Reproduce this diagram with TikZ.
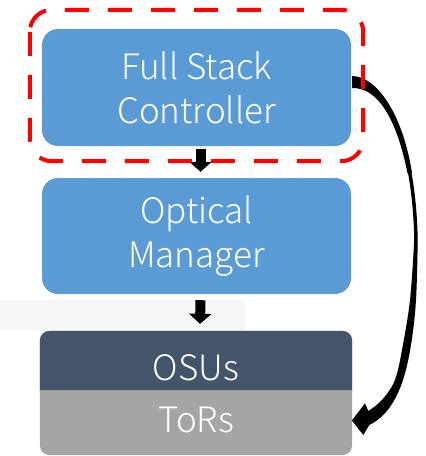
\documentclass[tikz,border=0pt]{standalone}
\usepackage{fontspec}
\newfontfamily\labelfont{Noto Sans CJK SC}[UprightFont=* Light]
\usetikzlibrary{arrows.meta,calc,backgrounds}
\definecolor{ctrlblue}{HTML}{5B9BD5}
\definecolor{osuslate}{HTML}{44546A}
\definecolor{torgray}{HTML}{A5A5A5}
\definecolor{bandgray}{HTML}{F7F7F7}
\tikzset{
  layerbox/.style={rectangle, fill=ctrlblue, rounded corners=16pt,
    minimum width=309pt, minimum height=117pt, inner sep=0pt,
    text=white, align=center,
    font=\labelfont\fontsize{35}{44}\selectfont},
  stackpart/.style={rectangle, minimum width=312pt, inner sep=0pt,
    text depth=0pt, text=white,
    font=\labelfont\fontsize{35}{44}\selectfont},
  selbox/.style={draw=red, line width=4pt, dash pattern=on 24pt off 19pt,
    rounded corners=22pt},
  blockarrow/.style={line width=10pt,
    -{Triangle[length=10pt 0 0, width=22pt 0 0]}},
  bypass/.style={line width=3.5pt}
}
\begin{document}
\begin{tikzpicture}[x=1pt, y=-1pt]
  \useasboundingbox (0,0) rectangle (426,456);
  % faint strip behind the lower arrow
  \fill[bandgray] (0,300) rectangle (245,330);

  \node[layerbox] (fsc) at (196.5,87.5) {Full Stack\\Controller};
  \node[layerbox, minimum height=116pt] (om) at (196.5,236) {Optical\\Manager};

  % hardware stack: OSUs on top of ToRs
  \node[stackpart, minimum height=59pt, text height=39pt] (osus) at (196,360.5) {OSUs};
  \node[stackpart, minimum height=65pt, text height=19pt] (tors) at (196,422.5) {ToRs};
  \begin{scope}[on background layer]
    \fill[torgray, rounded corners=10pt] (osus.north west) rectangle (tors.south east);
    \fill[osuslate] (osus.south west) [rounded corners=10pt] -- (osus.north west)
      -- (osus.north east) [sharp corners] -- (osus.south east) -- cycle;
  \end{scope}

  % control flow downwards
  \draw[blockarrow] ($(fsc.south)+(4,3)$) -- ($(om.north)+(4,-6)$);
  \draw[blockarrow] ($(om.south)+(4,6)$) -- ($(osus.north)+(4,-7)$);

  % direct path from the controller to the ToRs
  \coordinate (bstart) at ($(fsc.east)+(1,-5.5)$);
  \coordinate (bmid) at (416,240);
  \coordinate (bend) at ($(tors.east)+(-0.3,-2)$);
  % thick tapered root
  \fill ($(bstart)+(0,-6)$) .. controls (376.75,76.5) and (402.4,113.2) .. (412,172.7)
    -- (407.6,173.5) .. controls (396,116) and (376.75,87.5) .. ($(bstart)+(0,6)$) -- cycle;
  % thin upper run
  \draw[bypass] (bstart) .. controls (385,82) and (414,140) .. (bmid);
  % widening lower run ending in the arrowhead
  \fill plot[smooth, tension=0.6] coordinates {($(bmid)+(1.75,0)$) (416,300) (411,345)
      (403,380) (392,404) (380,418) (369.3,425)}
    -- (363.3,435) -- (bend) -- (365,403.3)
    -- plot[smooth, tension=0.6] coordinates {(368.3,411) (379,403) (389,391)
      (396,377) (402,350) (410,300) ($(bmid)+(-1.75,0)$)}
    -- cycle;

  % highlighted controller
  \draw[selbox] ($(fsc.north west)+(-12,-19)$) rectangle ($(fsc.south east)+(12,15)$);
\end{tikzpicture}
\end{document}
